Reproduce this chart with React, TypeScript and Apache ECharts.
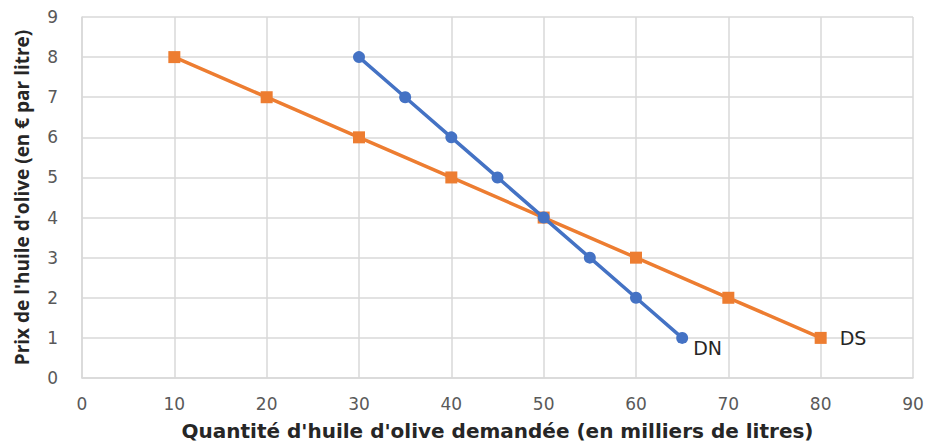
import React, { useEffect, useRef } from "react";
import * as echarts from "echarts";

const dnQuantity = [30, 35, 40, 45, 50, 55, 60, 65];
const dnPrice = [8, 7, 6, 5, 4, 3, 2, 1];
const dsQuantity = [10, 20, 30, 40, 50, 60, 70, 80];
const dsPrice = [8, 7, 6, 5, 4, 3, 2, 1];

const xTitle = "Quantité d'huile d'olive demandée (en milliers de litres)";
const yTitle = "Prix de l'huile d'olive (en € par litre)";

const FONT = "'DejaVu Sans', 'Liberation Sans', sans-serif";

export default function App() {
  const ref = useRef<HTMLDivElement>(null);
  useEffect(() => {
    if (!ref.current) return;
    const chart = echarts.init(ref.current, null, { renderer: "svg" });
    const pair = (xs: number[], ys: number[]) => xs.map((x, i) => [x, ys[i]]);
    const dnData = pair(dnQuantity, dnPrice);
    const dsData = pair(dsQuantity, dsPrice);
    chart.setOption({
      animation: false,
      backgroundColor: "#ffffff",
      grid: { left: 82, right: 15, top: 17, bottom: 70, containLabel: false },
      xAxis: {
        type: "value",
        min: 0,
        max: 90,
        interval: 10,
        name: xTitle,
        nameLocation: "middle",
        nameGap: 43,
        nameTextStyle: { fontFamily: FONT, fontSize: 20, fontWeight: "bold", color: "#262626" },
        axisLine: { show: true, lineStyle: { color: "#d9d9d9", width: 1.5 } },
        axisTick: { show: false },
        axisLabel: { fontFamily: FONT, fontSize: 17, color: "#595959", margin: 17 },
        splitLine: { show: true, lineStyle: { color: "#d9d9d9", width: 1.5 } },
      },
      yAxis: {
        type: "value",
        min: 0,
        max: 9,
        interval: 1,
        name: yTitle,
        nameLocation: "middle",
        nameGap: 51,
        nameTextStyle: { fontFamily: "'Open Sans', sans-serif", fontSize: 19, fontWeight: "bold", color: "#262626" },
        axisLine: { show: true, lineStyle: { color: "#d9d9d9", width: 1.5 } },
        axisTick: { show: false },
        axisLabel: { fontFamily: FONT, fontSize: 17, color: "#595959", margin: 24 },
        splitLine: { show: true, lineStyle: { color: "#d9d9d9", width: 1.5 } },
      },
      series: [
        {
          name: "DS",
          type: "line",
          data: dsData,
          symbol: "rect",
          symbolSize: 12,
          lineStyle: { color: "#ED7D31", width: 3.5 },
          itemStyle: { color: "#ED7D31" },
          label: {
            show: true,
            formatter: (p: any) => (p.dataIndex === dsData.length - 1 ? "DS" : ""),
            position: "right",
            distance: 13,
            fontFamily: FONT,
            fontSize: 19,
            color: "#262626",
          },
          z: 2,
        },
        {
          name: "DN",
          type: "line",
          data: dnData,
          symbol: "circle",
          symbolSize: 12,
          lineStyle: { color: "#4472C4", width: 3.5 },
          itemStyle: { color: "#4472C4" },
          label: {
            show: true,
            formatter: (p: any) => (p.dataIndex === dnData.length - 1 ? "DN" : ""),
            position: [17, 7],
            fontFamily: FONT,
            fontSize: 19,
            color: "#262626",
          },
          z: 3,
        },
      ],
    });
    return () => chart.dispose();
  }, []);
  return (
    <div
      ref={ref}
      style={{ position: "fixed", left: 0, top: 0, width: 928, height: 448 }}
    />
  );
}
